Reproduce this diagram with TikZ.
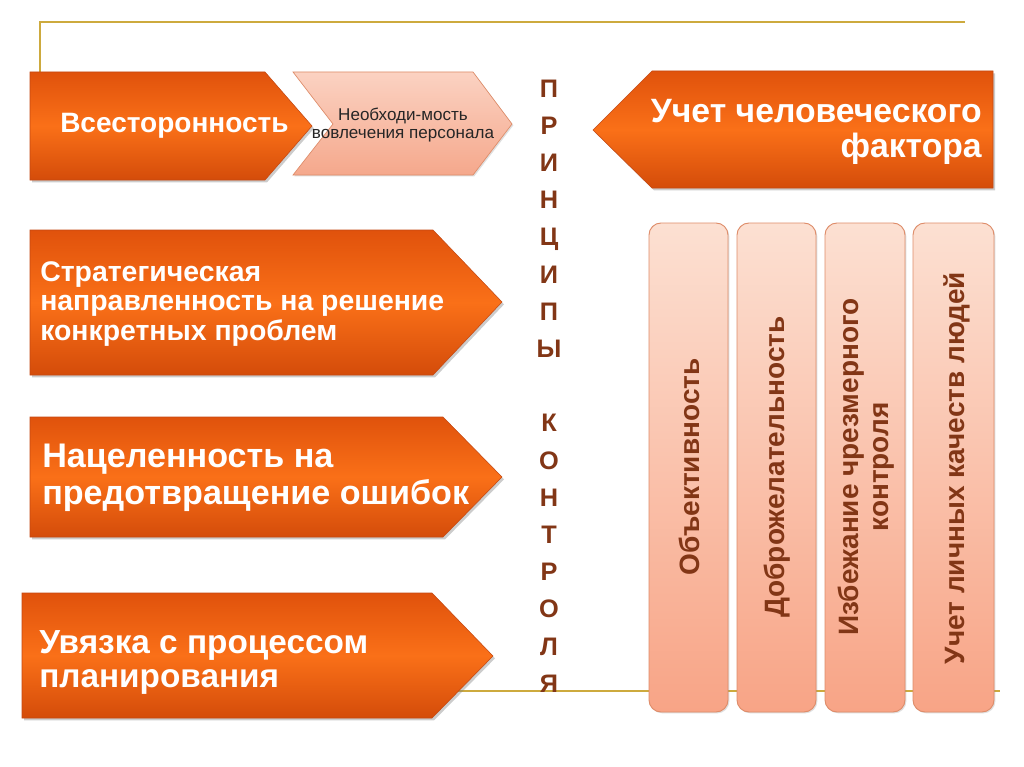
\documentclass[tikz,border=0pt]{standalone}
\usepackage{fontspec}
\setmainfont{Liberation Sans}
\usepackage{tikz}
\usetikzlibrary{shadows}

\definecolor{orTop}{RGB}{224,82,12}
\definecolor{orMid}{RGB}{250,112,24}
\definecolor{orBot}{RGB}{212,76,10}
\definecolor{orEdge}{RGB}{196,72,18}
\definecolor{pchTop}{RGB}{251,210,194}
\definecolor{pchBot}{RGB}{245,168,140}
\definecolor{pchEdge}{RGB}{222,140,105}
\definecolor{colTop}{RGB}{252,224,210}
\definecolor{colBot}{RGB}{248,164,134}
\definecolor{brownText}{RGB}{130,54,22}
\definecolor{goldLine}{RGB}{205,170,62}

\begin{document}
\begin{tikzpicture}[x=0.75pt,y=-0.75pt,
    orbox/.style={top color=orTop, bottom color=orBot, middle color=orMid, draw=orEdge, line width=0.4pt,
        drop shadow={opacity=0.4, shadow xshift=1.5pt, shadow yshift=-1.8pt}},
    pchbox/.style={top color=pchTop, bottom color=pchBot, draw=pchEdge, line width=0.5pt,
        drop shadow={opacity=0.25, shadow xshift=1pt, shadow yshift=-1pt}},
    colbox/.style={top color=colTop, bottom color=colBot, draw=pchEdge, line width=0.7pt, rounded corners=9pt,
        drop shadow={opacity=0.25, shadow xshift=1pt, shadow yshift=-1pt}},
    whitetext/.style={text=white, inner sep=0pt, align=left, font=\bfseries},
    coltext/.style={text=brownText, inner sep=0pt, align=center, rotate=90, font=\fontsize{21}{22.5}\selectfont\bfseries},
    letter/.style={text=brownText, inner sep=0pt, text height=13.6pt, text depth=0pt, font=\fontsize{19}{21}\selectfont\bfseries}]
                \useasboundingbox (0,0) rectangle (1024,767);
                \fill[white] (0,0) rectangle (1024,767);

                \draw[goldLine,line width=1.3pt] (40,72) -- (40,22) -- (965,22);
                \draw[goldLine,line width=1.3pt] (457,691) -- (1000,691);

                \path[orbox] (30,72) -- (265,72) -- (312,126) -- (265,180) -- (30,180) -- cycle;
                \path[pchbox] (293,72) -- (473,72) -- (512,124) -- (473,175) -- (293,175) -- (333,124) -- cycle;
                \path[orbox] (30,230) -- (433,230) -- (502,302) -- (433,375) -- (30,375) -- cycle;
                \path[orbox] (30,417) -- (443,417) -- (502,477) -- (443,537) -- (30,537) -- cycle;
                \path[orbox] (22,593) -- (432,593) -- (493,656) -- (432,718) -- (22,718) -- cycle;
                \path[orbox] (652,71) -- (993,71) -- (993,188) -- (652,188) -- (593,130) -- cycle;

                \node[whitetext, anchor=west, font=\fontsize{21}{24}\selectfont\bfseries] (vsest) at (60,126) {Всесторонность};
                \node[inner sep=0pt, align=center, text={black!85}, font=\fontsize{12.8}{13.6}\selectfont] (vovl) at (403,125) {Необходи-мость\\вовлечения персонала};
                \node[whitetext, anchor=west, font=\fontsize{21.3}{21.8}\selectfont\bfseries] (strat) at (40,304) {Стратегическая\\направленность на решение\\конкретных проблем};
                \node[whitetext, anchor=west, font=\fontsize{25.6}{27.5}\selectfont\bfseries] (nacel) at (42,478) {Нацеленность на\\предотвращение ошибок};
                \node[whitetext, anchor=west, font=\fontsize{25}{25.5}\selectfont\bfseries] (uvyaz) at (39,662) {Увязка с процессом\\планирования};
                \node[whitetext, anchor=east, align=right, font=\fontsize{25.3}{26}\selectfont\bfseries] (chelov) at (982,132) {Учет человеческого\\фактора};

                \foreach \l [count=\i] in {П,Р,И,Н,Ц,И,П,Ы,{},К,О,Н,Т,Р,О,Л,Я}
                    \node[letter] (ltr\i) at (549,{88+37.2*(\i-1)}) {\l};

                \draw[colbox] (649,223) rectangle (728,712);
                \draw[colbox] (737,223) rectangle (816,712);
                \draw[colbox] (825,223) rectangle (905,712);
                \draw[colbox] (913,223) rectangle (994,712);
                \node[coltext] (obj) at (689,467) {Объективность};
                \node[coltext] (dobr) at (777,467) {Доброжелательность};
                \node[coltext] (izb) at (866,467) {Избежание чрезмерного\\контроля};
                \node[coltext] (uchet) at (957,468) {Учет личных качеств людей};
            \end{tikzpicture}
\end{document}
